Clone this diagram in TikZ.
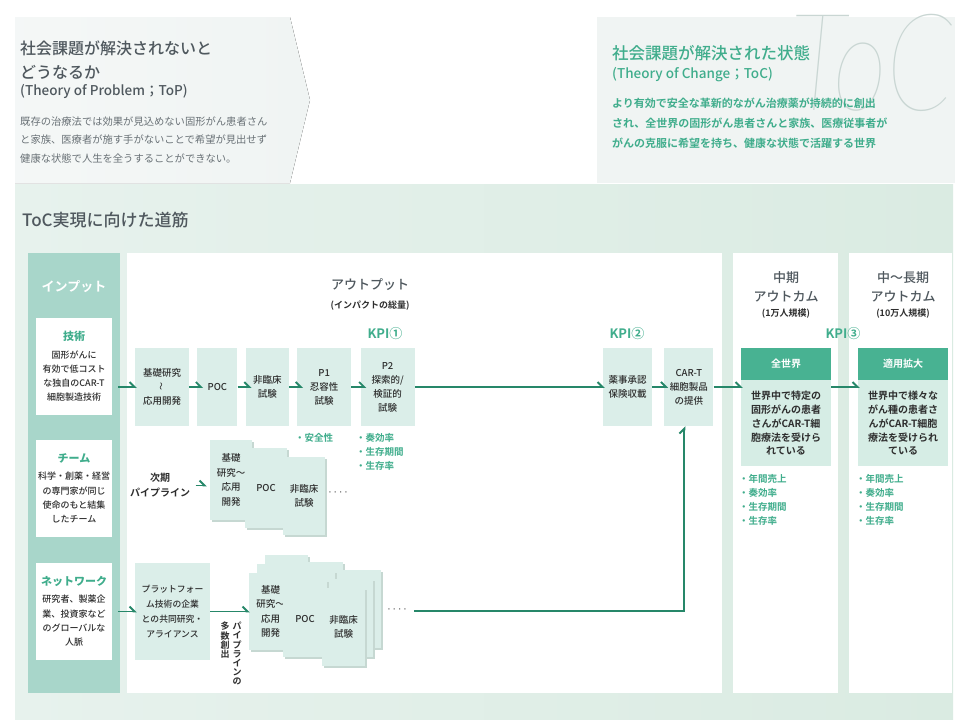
\documentclass[tikz,border=0pt]{standalone}
\usepackage{fontspec}
\setmainfont{Noto Sans CJK JP}[BoldFont={Noto Sans CJK JP Bold}]
\IfFontExistsTF{Noto Sans CJK JP Medium}
  {\newfontfamily\medfont{Noto Sans CJK JP Medium}}
  {\newfontfamily\medfont{Noto Sans CJK JP}}
\newfontfamily\dotfont{DejaVu Sans}
\IfFontExistsTF{Lato-HairlineItalic.ttf}
  {\newfontfamily\tocfont{Lato-HairlineItalic.ttf}}
  {\newfontfamily\tocfam{Lato}\newcommand{\tocfont}{\tocfam\itshape}}
\usetikzlibrary{arrows.meta,positioning,shadows}
\definecolor{toppanel}{HTML}{F0F4F3}
\definecolor{mainbgl}{HTML}{E7F2ED}
\definecolor{mainbgr}{HTML}{DAEBE2}
\definecolor{incol}{HTML}{A8D6CA}
\definecolor{boxfill}{HTML}{DBEEE9}
\definecolor{outbody}{HTML}{D6EDE5}
\definecolor{outhead}{HTML}{48B292}
\definecolor{arrowc}{HTML}{268769}
\definecolor{kpic}{HTML}{40AD8C}
\definecolor{headc}{HTML}{4F585E}
\definecolor{textc}{HTML}{2E2E2E}
\definecolor{shadowc}{HTML}{C6D8D2}
\definecolor{tocc}{HTML}{C9D6D3}
\newcommand{\fsz}[2]{\fontsize{#1}{#2}\selectfont}

\begin{document}
\begin{tikzpicture}[x=1pt,y=-1pt,node distance=8pt,
  box/.style={fill=boxfill,text=textc,align=center,inner sep=1pt,minimum height=78,font=\fsz{9.5}{14}\medfont},
  inbox/.style={fill=white,text=textc,align=center,inner sep=1pt,minimum width=76,minimum height=97,font=\fsz{9}{14.3}\medfont},
  card/.style={fill=boxfill,text=textc,align=center,inner sep=1pt,font=\fsz{9.5}{14.5}\medfont,
    general shadow={fill=shadowc,shadow xshift=1.5pt,shadow yshift=-1.5pt}},
  ohead/.style={fill=outhead,text=white,minimum width=90,minimum height=32,font=\fsz{10}{13}\bfseries},
  obody/.style={fill=outbody,text=textc,align=center,minimum width=90,minimum height=86,inner sep=1pt,font=\fsz{10}{13.7}\bfseries},
  collab/.style={text=headc,align=center,font=\fsz{13}{19}\medfont},
  colsub/.style={text=textc,font=\fsz{9}{12}\bfseries},
  kpi/.style={text=kpic,font=\fsz{13}{15}\bfseries},
  metric/.style={text=kpic,align=left,anchor=west,inner sep=0pt,font=\fsz{9.5}{14}\bfseries},
  dots/.style={text=textc,font=\fsz{9}{9}\dotfont},
  arr/.style={draw=arrowc,line width=1.9pt,-{Straight Barb[left,length=5pt,width=10pt]}}]
\useasboundingbox (0,0) rectangle (960,720);

% upper panels
\fill[left color=toppanel!70!white,right color=toppanel] (15,17) -- (290,17) -- (310,100) -- (290,183) -- (15,183) -- cycle;
\fill[toppanel] (597,17) rectangle (955,183);
\node[anchor=north west,inner sep=0,text=tocc] (tocmark) at (790,14) {\scalebox{0.78}[1]{\fsz{136}{136}\tocfont ToC}};

\node[anchor=west,align=left,inner sep=0,text=headc,font=\fsz{16}{24}\medfont] (topq) at (20,60) {社会課題が解決されないと\\どうなるか};
\node[anchor=west,inner sep=0,text=headc,font=\fsz{13.5}{16}\medfont] (topsub) at (20,91) {(Theory of Problem；ToP)};
\node[anchor=west,align=left,inner sep=0,text=headc!85!white,font=\fsz{10.3}{18.5}] (toptxt) at (20,140) {既存の治療法では効果が見込めない固形がん患者さん\\と家族、医療者が施す手がないことで希望が見出せず\\健康な状態で人生を全うすることができない。};

\node[anchor=west,inner sep=0,text=kpic,font=\fsz{16.5}{20}\medfont] (tocq) at (612,53) {社会課題が解決された状態};
\node[anchor=west,inner sep=0,text=kpic,font=\fsz{13.5}{16}\medfont] (tocsub) at (612,75) {(Theory of Change；ToC)};
\node[anchor=west,align=left,inner sep=0,text=kpic,font=\fsz{11}{20}\bfseries] (toctxt) at (612,123) {より有効で安全な革新的ながん治療薬が持続的に創出\\され、全世界の固形がん患者さんと家族、医療従事者が\\がんの克服に希望を持ち、健康な状態で活躍する世界};

% main panel and columns
\fill[left color=mainbgl,right color=mainbgr] (15,184) rectangle (953,719);
\node[anchor=west,inner sep=0,text=headc,font=\fsz{17}{20}\medfont] (road) at (22,220) {ToC実現に向けた道筋};
\fill[incol] (28,253) rectangle (120,693);
\fill[white] (127,253) rectangle (722,693);
\fill[white] (733,253) rectangle (838,693);
\fill[white] (849,253) rectangle (952,693);

% inputs
\node[text=white,font=\fsz{13}{15}\bfseries] (inlab) at (74,287) {インプット};
\node[inbox] (tech) at (74,366.5) {{\fsz{11}{14}\bfseries\color{kpic}技術}\\[3pt]固形がんに\\有効で低コスト\\な独自のCAR-T\\細胞製造技術};
\node[inbox] (team) at (74,488.5) {{\fsz{11}{14}\bfseries\color{kpic}チーム}\\[3pt]科学・創薬・経営\\の専門家が同じ\\使命のもと結集\\したチーム};
\node[inbox] (net) at (74,611.5) {{\fsz{11}{14}\bfseries\color{kpic}ネットワーク}\\[3pt]研究者、製薬企\\業、投資家など\\のグローバルな\\人脈};

% outputs
\node[collab] (outlab) at (370,285) {アウトプット};
\node[colsub] (outsub) at (370,306) {(インパクトの総量)};
\node[kpi] (kpi1) at (385,334) {KPI①};
\node[kpi] (kpi2) at (627,334) {KPI②};

\node[box,minimum width=54] (basic) at (162,387) {基礎研究\\\rotatebox{90}{\fsz{8}{8}〜}\\応用開発};
\node[box,minimum width=40,right=of basic] (poc) {POC};
\node[box,minimum width=43,right=of poc] (nonclin) {非臨床\\試験};
\node[box,minimum width=54,right=of nonclin] (phase1) {P1\\忍容性\\試験};
\node[box,minimum width=54,right=9pt of phase1] (phase2) {P2\\探索的/\\検証的\\試験};
\node[box,minimum width=49] (approval) at (627.5,387) {薬事承認\\保険収載};
\node[box,minimum width=49,right=12pt of approval] (product) {CAR-T\\細胞製品\\の提供};

\node[metric] (safety) at (295,438) {・安全性};
\node[metric] (efficacy) at (356,452) {・奏効率\\・生存期間\\・生存率};

% next pipeline
\node[text=textc,align=center,font=\fsz{10}{15}\bfseries] (nextpl) at (160,485.5) {次期\\パイプライン};
\node[card,minimum width=42,minimum height=80] (nx1) at (231,480) {基礎\\研究〜\\応用\\開発};
\node[card,minimum width=42,minimum height=80] (nx2) at (266,488) {POC};
\node[card,minimum width=42,minimum height=78] (nx3) at (304,496) {非臨床\\試験};
\node[dots] (nxdots) at (338,494) {·\hspace{2.5pt}·\hspace{2.5pt}·\hspace{2.5pt}·};

% platform pipelines
\node[box,minimum width=75,minimum height=97,font=\fsz{8.8}{15}\medfont] (platform) at (172.5,611.5) {プラットフォー\\ム技術の企業\\との共同研究・\\アライアンス};
\node[anchor=north,align=center,inner sep=0,text=textc,font=\fsz{9}{9.2}\bfseries] (vmany) at (237,622) {パ\\イ\\プ\\ラ\\イ\\ン\\の};
\node[anchor=north,align=center,inner sep=0,text=textc,font=\fsz{9}{9.2}\bfseries] (vcount) at (225,622) {多\\数\\創\\出};

\node[card,minimum width=43,minimum height=77] (pa3) at (286.5,593.5) {};
\node[card,minimum width=43,minimum height=77] (pa2) at (278.5,602.5) {};
\node[card,minimum width=43,minimum height=77] (pa) at (270.5,611.5) {基礎\\研究〜\\応用\\開発};
\node[card,minimum width=44,minimum height=77] (pb3) at (321,600.5) {};
\node[card,minimum width=44,minimum height=77] (pb2) at (313,609.5) {};
\node[card,minimum width=44,minimum height=77] (pb) at (305,618.5) {POC};
\node[card,minimum width=43,minimum height=78] (pc3) at (359.5,609) {};
\node[card,minimum width=43,minimum height=78] (pc2) at (351.5,618) {};
\node[card,minimum width=43,minimum height=78] (pc) at (343.5,627) {非臨床\\試験};
\node[dots] (pdots) at (397,611) {·\hspace{2.5pt}·\hspace{2.5pt}·\hspace{2.5pt}·};

% outcomes
\node[collab] (midlab) at (786,287) {中期\\アウトカム};
\node[colsub] (midsub) at (786,314) {(1万人規模)};
\node[collab] (longlab) at (903,287) {中〜長期\\アウトカム};
\node[colsub] (longsub) at (903,314) {(10万人規模)};
\node[kpi] (kpi3) at (843,334) {KPI③};

\node[ohead] (worldh) at (786,364) {全世界};
\node[obody,below=0pt of worldh] (world) {世界中で特定の\\固形がんの患者\\さんがCAR-T細\\胞療法を受けら\\れている};
\node[ohead] (expandh) at (903,364) {適用拡大};
\node[obody,below=0pt of expandh] (expand) {世界中で様々な\\がん種の患者さ\\んがCAR-T細胞\\療法を受けられ\\ている};
\node[metric] (worldkpi) at (739,500) {・年間売上\\・奏効率\\・生存期間\\・生存率};
\node[metric] (expandkpi) at (856,500) {・年間売上\\・奏効率\\・生存期間\\・生存率};

% connectors
\draw[arr,shorten <=6pt,shorten >=-2pt] (tech.east |- basic.west) -- (basic.west);
\draw[arr,shorten >=-6pt] (basic) -- (poc);
\draw[arr,shorten >=-6pt] (poc) -- (nonclin);
\draw[arr,shorten >=-6pt] (nonclin) -- (phase1);
\draw[arr,shorten >=-6pt] (phase1) -- (phase2);
\draw[arr,shorten >=-2pt] (phase2) -- (approval);
\draw[arr,shorten >=-4pt] (approval) -- (product);
\draw[arr,shorten >=-2pt] (product) -- (product -| world.west);
\draw[arr,shorten >=-2pt] (product -| world.east) -- (product -| expand.west);
\draw[arr,shorten <=2pt,shorten >=3pt] (nextpl.east) -- (nextpl.east -| nx1.west);
\draw[arr,shorten <=6pt,shorten >=-2pt] (net) -- (platform);
\draw[arr,shorten >=-1pt] (platform) -- (pa);
\draw[arr,shorten <=4pt] (pdots.east) -| ([xshift=-4.5pt]product.south);
\end{tikzpicture}
\end{document}
